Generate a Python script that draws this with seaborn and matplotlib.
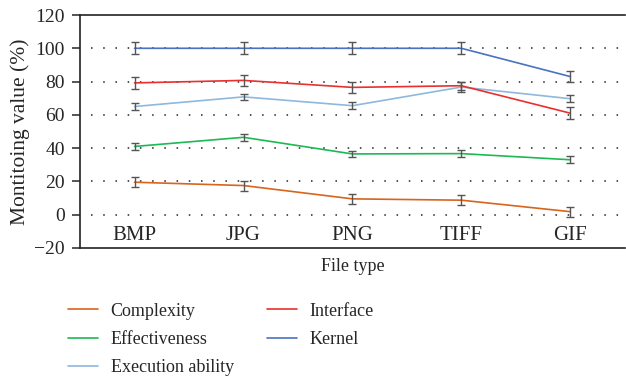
import matplotlib
matplotlib.use("Agg")
import matplotlib.pyplot as plt
import seaborn as sns
import pandas as pd
import numpy as np

file_types = ["BMP", "JPG", "PNG", "TIFF", "GIF"]
series_names = ["Complexity", "Effectiveness", "Execution ability", "Interface", "Kernel"]
complexity = [19.5, 17.5, 9.5, 8.7, 1.8]
effectiveness = [41, 46.5, 36.5, 36.7, 33]
execution = [65, 70.8, 65.5, 76.7, 69.7]
interface = [79.2, 80.7, 76.5, 77.5, 61]
kernel = [100, 100, 100, 100, 83]
err_complexity = [3, 3, 3, 3, 3]
err_effectiveness = [2, 2, 2, 2, 2]
err_execution = [2, 2, 2, 3, 2]
err_interface = [3.5, 3.5, 3.5, 2.5, 3.5]
err_kernel = [3.5, 3.5, 3.5, 3.5, 3.5]
y_ticks = [-20, 0, 20, 40, 60, 80, 100, 120]

colors = ["#d9641c", "#1db954", "#8fb8de", "#e8302e", "#4a72c0"]
values = [complexity, effectiveness, execution, interface, kernel]
errs = [err_complexity, err_effectiveness, err_execution, err_interface, err_kernel]

rows = []
for name, vals in zip(series_names, values):
    for i, (ft, v) in enumerate(zip(file_types, vals)):
        rows.append({"File type": ft, "x": i, "Value": v, "Series": name})
df = pd.DataFrame(rows)

sns.set_style("white")
plt.rcParams["font.family"] = ["Liberation Serif", "DejaVu Serif"]

fig = plt.figure(figsize=(6.26, 3.85), dpi=100)
ax = fig.add_axes([0.128, 0.356, 0.870, 0.605])

# dotted grid
for yv in y_ticks[1:-1]:
    ax.axhline(yv, xmin=0.02, color="#222222", linestyle=(0, (1, 7)), linewidth=1.1, zorder=0)

sns.lineplot(data=df, x="x", y="Value", hue="Series", hue_order=series_names,
             palette=colors, linewidth=1.2, ax=ax, legend=True, zorder=2)

for name, vals, e in zip(series_names, values, errs):
    ax.errorbar(range(len(file_types)), vals, yerr=e, fmt="none", ecolor="#555555",
                elinewidth=1.0, capsize=3, capthick=1.0, zorder=3)

ax.set_xlim(-0.5, 4.5)
ax.set_ylim(-20, 120)
ax.set_yticks(y_ticks)
ax.set_yticklabels(["\u221220" if t < 0 else str(t) for t in y_ticks])
ax.set_xticks(range(len(file_types)))
ax.set_xticklabels(file_types)
ax.tick_params(axis="y", which="both", left=True, length=6, width=1.1, labelsize=14, pad=5)
ax.tick_params(axis="x", length=0, labelsize=15, pad=-16)
ax.set_xlabel("File type", fontsize=13, labelpad=7)
ax.set_ylabel("Montitoing value (%)", fontsize=15.5, labelpad=3)
for s in ["left", "bottom", "top", "right"]:
    ax.spines[s].set_color("#222222")
    ax.spines[s].set_linewidth(1.2)
ax.spines["right"].set_visible(False)

h, l = ax.get_legend_handles_labels()
ax.legend(h, l, ncol=2, frameon=False, loc="upper left", bbox_to_anchor=(-0.022, -0.235),
          fontsize=13, handlelength=1.65, handletextpad=0.7, columnspacing=1.85,
          labelspacing=0.62, borderaxespad=0, borderpad=0)

fig.savefig("out.png", dpi=100)
